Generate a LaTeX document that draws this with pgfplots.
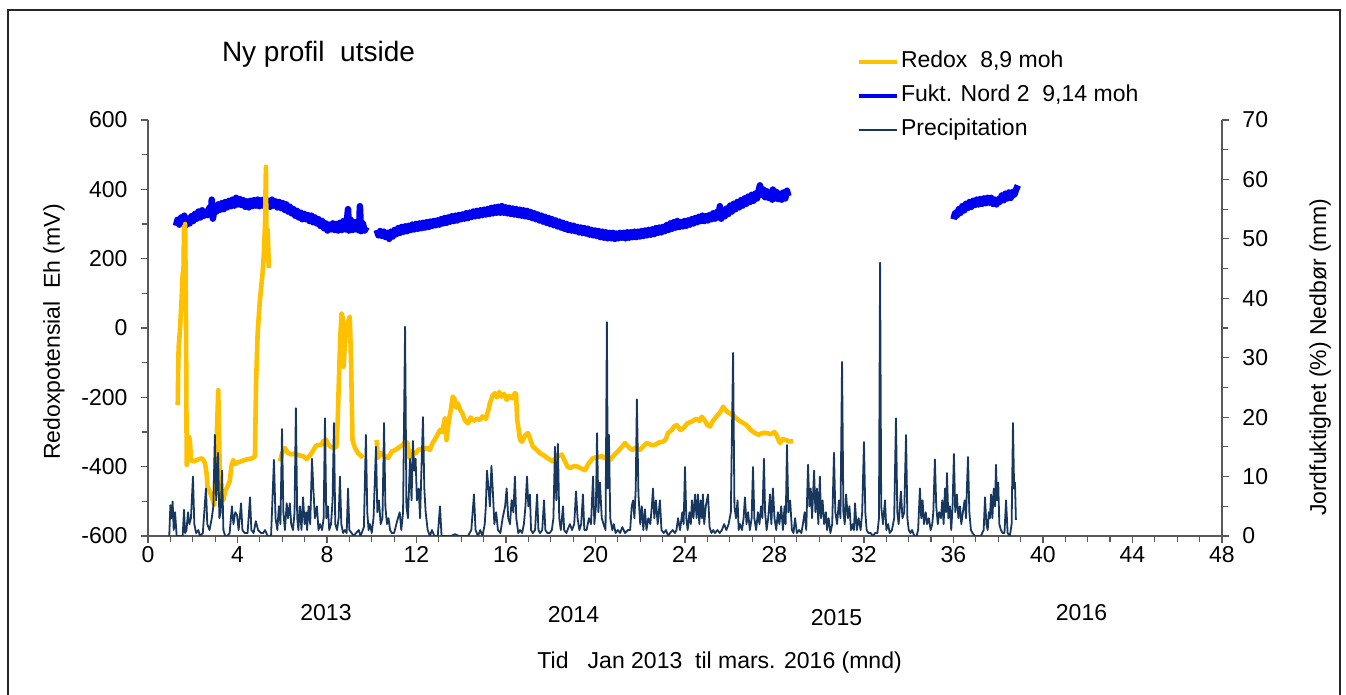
\documentclass[border=0pt]{standalone}
\usepackage{fontspec}
\setmainfont{Liberation Sans}
\usepackage{pgfplots}
\pgfplotsset{compat=1.18}
\definecolor{redox}{HTML}{FFC000}
\definecolor{fukt}{HTML}{0000F0}
\definecolor{prec}{HTML}{17375E}
\definecolor{axc}{HTML}{595959}
\newcommand\fs{\fontsize{23pt}{27pt}\selectfont}
\pgfplotsset{
  base/.style={at={(0pt,0pt)}, anchor=south west, scale only axis,
    width=1074pt, height=416pt, xmin=0, xmax=48,
    axis line style={axc, line width=1.2pt},
    tick style={axc, line width=1.2pt},
    tick align=outside, major tick length=7pt, minor tick length=6pt,
    tick label style={font=\fs, text=black},
  },
}
\begin{document}
\begin{tikzpicture}
\useasboundingbox (-148pt,-159pt) rectangle (1198pt,536pt);
\draw[line width=1.3pt, black!85] (-140pt,-170pt) -- (-140pt,526pt) -- (1192pt,526pt) -- (1192pt,-170pt);

% ---- right axis: soil moisture (blue)
\begin{axis}[base, ymin=0, ymax=70, axis x line=none, axis y line*=right,
  ytick={0,10,20,30,40,50,60,70}, yticklabels={0,10,20,30,40,50,60,70},
  minor y tick num=1, yticklabel style={anchor=west, xshift=10pt},
  unbounded coords=jump]
\addplot[fukt, line width=6.5pt, line join=round] coordinates {
(1.25,52.2)(1.32,53.2)(1.40,52.4)(1.48,53.6)(1.55,52.8)(1.62,53.9)(1.70,52.3)(1.78,53.4)(1.86,52.6)(1.94,53.8)
(2.02,53.0)(2.10,54.2)(2.18,53.4)(2.26,54.6)(2.34,53.6)(2.42,54.8)(2.50,53.9)(2.58,54.6)(2.66,54.0)(2.74,55.2)
(2.82,54.4)(2.85,56.6)(2.90,53.4)(2.98,55.3)(3.06,54.6)(3.14,55.8)(3.22,54.9)(3.30,56.0)(3.38,55.0)(3.46,56.2)
(3.54,55.3)(3.62,56.4)(3.70,55.5)(3.78,56.6)(3.86,55.6)(3.94,56.9)(4.02,55.8)(4.10,56.7)(4.18,55.7)(4.26,56.5)
(4.34,55.4)(4.42,56.3)(4.50,55.3)(4.58,56.4)(4.66,55.5)(4.74,56.5)(4.82,55.6)(4.90,56.6)(4.98,55.5)(5.06,56.5)
(5.14,55.6)(5.22,56.7)(5.30,55.5)(5.38,56.4)(5.46,55.4)(5.54,56.6)(5.62,55.6)(5.70,56.3)(5.78,55.3)(5.86,56.2)
(5.94,55.2)(6.02,56.0)(6.10,54.9)(6.18,55.8)(6.26,54.6)(6.34,55.4)(6.42,54.3)(6.50,55.0)(6.58,53.9)(6.66,54.7)
(6.74,53.6)(6.82,54.4)(6.90,53.3)(6.98,54.2)(7.06,53.3)(7.14,54.0)(7.22,53.0)(7.30,53.9)(7.38,52.8)(7.46,53.6)
(7.54,52.6)(7.62,53.3)(7.70,52.2)(7.78,53.0)(7.86,51.8)(7.94,52.6)(8.02,51.4)(8.10,52.4)(8.18,51.6)(8.26,52.6)
(8.34,51.5)(8.42,52.5)(8.50,51.4)(8.58,52.7)(8.66,51.5)(8.74,53.0)(8.82,51.6)(8.90,53.3)(8.94,55.0)(8.98,51.4)
(9.06,53.2)(9.14,51.5)(9.22,52.8)(9.30,51.6)(9.38,52.9)(9.44,51.4)(9.47,55.5)(9.52,51.3)(9.60,52.6)(9.68,51.4)(9.77,52.0)
(9.9,nan)
(10.22,51.5)(10.30,50.6)(10.38,51.3)(10.46,50.5)(10.54,51.2)(10.62,50.3)(10.70,51.0)(10.78,50.0)(10.86,51.2)(10.94,50.4)
(11.02,51.5)(11.10,50.8)(11.18,51.8)(11.26,51.0)(11.34,52.0)(11.42,51.2)(11.50,52.1)(11.58,51.3)(11.66,52.2)(11.74,51.5)
(11.82,52.4)(11.90,51.6)(11.98,52.5)(12.06,51.7)(12.14,52.6)(12.22,51.8)(12.30,52.7)(12.38,51.9)(12.46,52.8)(12.54,52.0)
(12.62,52.9)(12.70,52.2)(12.78,53.0)(12.86,52.3)(12.94,53.1)(13.02,52.4)(13.10,53.3)(13.18,52.6)(13.26,53.5)(13.34,52.7)
(13.42,53.6)(13.50,52.9)(13.58,53.8)(13.66,53.0)(13.74,53.9)(13.82,53.1)(13.90,54.0)(13.98,53.3)(14.06,54.1)(14.14,53.4)
(14.22,54.3)(14.30,53.5)(14.38,54.4)(14.46,53.7)(14.54,54.6)(14.62,53.8)(14.70,54.7)(14.78,53.9)(14.86,54.8)(14.94,54.0)
(15.02,54.9)(15.10,54.1)(15.18,55.0)(15.26,54.2)(15.34,55.2)(15.42,54.3)(15.50,55.3)(15.58,54.4)(15.66,55.4)(15.74,54.4)
(15.82,55.5)(15.90,54.4)(15.98,55.3)(16.06,54.3)(16.14,55.2)(16.22,54.2)(16.30,55.1)(16.38,54.1)(16.46,55.0)(16.54,54.0)
(16.62,54.9)(16.70,53.9)(16.78,54.8)(16.86,53.8)(16.94,54.7)(17.02,53.7)(17.10,54.5)(17.18,53.5)(17.26,54.3)(17.34,53.3)
(17.42,54.1)(17.50,53.1)(17.58,53.9)(17.66,52.9)(17.74,53.7)(17.82,52.7)(17.90,53.5)(17.98,52.5)(18.06,53.3)(18.14,52.3)
(18.22,53.1)(18.30,52.1)(18.38,52.9)(18.46,51.9)(18.54,52.7)(18.62,51.7)(18.70,52.5)(18.78,51.5)(18.86,52.3)(18.94,51.4)
(19.02,52.2)(19.10,51.3)(19.18,52.0)(19.26,51.1)(19.34,51.9)(19.42,51.0)(19.50,51.8)(19.58,50.9)(19.66,51.7)(19.74,50.7)
(19.82,51.5)(19.90,50.6)(19.98,51.4)(20.06,50.5)(20.14,51.3)(20.22,50.3)(20.30,51.2)(20.38,50.2)(20.46,51.1)(20.54,50.1)
(20.62,51.0)(20.70,50.1)(20.78,51.0)(20.86,50.0)(20.94,50.9)(21.02,50.1)(21.10,51.0)(21.18,50.2)(21.26,51.0)(21.34,50.1)
(21.42,51.1)(21.50,50.2)(21.58,51.1)(21.66,50.3)(21.74,51.2)(21.82,50.3)(21.90,51.2)(21.98,50.4)(22.06,51.3)(22.14,50.5)
(22.22,51.4)(22.30,50.6)(22.38,51.5)(22.46,50.7)(22.54,51.6)(22.62,50.8)(22.70,51.8)(22.78,51.0)(22.86,51.9)(22.94,51.1)
(23.02,52.0)(23.10,51.3)(23.18,52.3)(23.26,51.5)(23.34,52.6)(23.42,51.7)(23.50,52.8)(23.58,51.9)(23.66,53.0)(23.74,52.0)
(23.82,52.8)(23.90,52.1)(23.98,53.0)(24.06,52.2)(24.14,53.1)(24.22,52.4)(24.30,53.3)(24.38,52.6)(24.46,53.5)(24.54,52.8)
(24.62,53.7)(24.70,53.0)(24.78,53.9)(24.86,53.0)(24.94,53.8)(25.02,53.1)(25.10,54.0)(25.18,53.3)(25.26,54.3)(25.34,53.4)
(25.42,54.5)(25.50,53.6)(25.56,55.5)(25.62,53.4)(25.70,54.8)(25.78,53.8)(25.86,55.1)(25.94,54.2)(26.02,55.6)(26.10,54.6)
(26.18,55.9)(26.26,55.0)(26.34,56.2)(26.42,55.3)(26.50,56.5)(26.58,55.6)(26.66,56.8)(26.74,55.9)(26.82,57.1)(26.90,56.2)
(26.98,57.4)(27.06,56.4)(27.14,57.6)(27.22,56.8)(27.30,58.2)(27.35,59.0)(27.42,57.4)(27.50,58.3)(27.58,57.0)(27.66,58.0)
(27.74,56.9)(27.82,57.8)(27.90,56.6)(27.93,58.3)(28.00,56.8)(28.08,57.9)(28.16,56.7)(28.24,57.6)(28.32,56.6)(28.40,57.8)
(28.48,56.8)(28.56,58.1)(28.62,57.2)
(30,nan)
(36.00,53.3)(36.08,54.4)(36.16,53.9)(36.24,55.0)(36.32,54.4)(36.40,55.5)(36.48,54.8)(36.56,55.9)(36.64,55.2)(36.72,56.2)
(36.80,55.4)(36.88,56.4)(36.96,55.7)(37.04,56.6)(37.12,55.8)(37.20,56.7)(37.28,55.9)(37.36,56.8)(37.44,56.0)(37.52,56.9)
(37.60,56.1)(37.68,56.9)(37.76,55.9)(37.84,56.6)(37.92,55.8)(38.00,56.7)(38.08,56.2)(38.16,57.3)(38.24,56.5)(38.32,57.6)
(38.40,56.8)(38.48,57.8)(38.56,56.9)(38.64,57.9)(38.72,57.4)(38.80,58.3)(38.88,59.0)
};
\end{axis}

% ---- left axis: redox (yellow)
\begin{axis}[base, ymin=-600, ymax=600, axis x line*=bottom, axis y line*=left,
  xtick={0,4,8,12,16,20,24,28,32,36,40,44,48},
  xticklabels={0,4,8,12,16,20,24,28,32,36,40,44,48},
  minor x tick num=3,
  ytick={-600,-400,-200,0,200,400,600},
  yticklabels={-600,-400,-200,0,200,400,600},
  minor y tick num=1, yticklabel style={anchor=east, xshift=-10pt},
  unbounded coords=jump]
\addplot[redox, line width=4.6pt, line join=round] coordinates {
(1.33,-222)(1.35,-120)(1.37,-54)(1.42,-15)(1.50,80)(1.55,158)(1.58,130)(1.61,292)(1.64,180)(1.66,300)(1.70,0)
(1.73,-395)(1.78,-380)(1.84,-314)(1.88,-330)(1.92,-381)(2.05,-385)(2.17,-381)(2.30,-378)(2.42,-376)(2.55,-390)
(2.62,-420)(2.66,-458)(2.75,-470)(2.85,-487)(2.96,-511)(3.02,-420)(3.08,-300)(3.14,-179)(3.18,-320)(3.22,-450)
(3.30,-490)(3.37,-496)(3.45,-470)(3.55,-458)(3.66,-440)(3.72,-400)(3.81,-381)(3.90,-392)(4.00,-388)(4.15,-385)
(4.30,-381)(4.50,-378)(4.65,-376)(4.78,-370)(4.83,-159)(4.90,-15)(5.00,80)(5.12,158)(5.18,215)(5.23,300)
(5.27,465)(5.29,300)(5.31,196)(5.35,283)(5.38,220)(5.40,173)
(5.6,nan)
(5.90,-385)(6.00,-360)(6.12,-346)(6.25,-360)(6.40,-365)(6.55,-362)(6.70,-366)(6.93,-370)(7.10,-378)(7.20,-370)
(7.36,-356)(7.50,-340)(7.62,-337)(7.76,-337)(7.82,-327)(7.95,-322)(8.05,-335)(8.15,-342)(8.31,-346)(8.42,-342)
(8.48,-265)(8.55,-112)(8.60,-20)(8.65,42)(8.70,30)(8.74,-112)(8.80,-44)(8.86,0)(8.95,20)(9.02,33)(9.08,-112)
(9.14,-323)(9.25,-346)(9.40,-362)(9.55,-370)(9.60,-375)
(9.9,nan)
(10.22,-323)(10.28,-375)(10.40,-361)(10.55,-368)(10.73,-375)(10.90,-356)(11.05,-352)(11.20,-345)(11.40,-337)(11.50,-327)
(11.60,-332)(11.68,-375)(11.80,-356)(11.95,-362)(12.10,-350)(12.29,-352)(12.45,-345)(12.60,-352)(12.72,-332)(12.90,-313)
(13.05,-294)(13.15,-300)(13.27,-260)(13.34,-323)(13.45,-265)(13.55,-230)(13.62,-198)(13.70,-205)(13.78,-230)(13.85,-217)
(13.95,-236)(14.05,-246)(14.15,-265)(14.30,-275)(14.42,-258)(14.55,-268)(14.70,-262)(14.84,-265)(14.95,-255)(15.10,-262)
(15.20,-240)(15.28,-217)(15.40,-195)(15.50,-188)(15.60,-200)(15.70,-185)(15.80,-198)(15.92,-190)(16.03,-207)(16.15,-196)
(16.28,-203)(16.40,-188)(16.45,-190)(16.50,-265)(16.56,-290)(16.63,-323)(16.72,-328)(16.85,-310)(16.98,-303)(17.07,-318)
(17.20,-342)(17.35,-350)(17.52,-361)(17.70,-368)(17.85,-375)(18.10,-385)(18.30,-370)(18.49,-365)(18.60,-380)(18.75,-400)
(18.86,-404)(19.05,-398)(19.20,-400)(19.35,-405)(19.53,-410)(19.70,-390)(19.90,-375)(20.10,-372)(20.30,-370)(20.50,-378)
(20.65,-381)(20.85,-365)(21.00,-356)(21.15,-345)(21.32,-332)(21.50,-345)(21.65,-352)(21.80,-345)(21.99,-352)(22.15,-340)
(22.30,-332)(22.50,-338)(22.66,-337)(22.85,-330)(23.05,-327)(23.15,-320)(23.24,-303)(23.40,-295)(23.50,-285)(23.63,-280)
(23.80,-294)(23.95,-288)(24.10,-275)(24.30,-270)(24.50,-262)(24.65,-268)(24.75,-256)(24.90,-268)(25.00,-280)(25.12,-284)
(25.25,-268)(25.40,-256)(25.55,-245)(25.71,-227)(25.85,-240)(26.00,-246)(26.20,-255)(26.37,-265)(26.55,-272)(26.75,-280)
(26.95,-295)(27.13,-303)(27.30,-308)(27.45,-303)(27.65,-303)(27.85,-306)(28.00,-300)(28.10,-310)(28.20,-326)(28.25,-332)
(28.35,-320)(28.50,-323)(28.65,-327)(28.83,-327)
};
\end{axis}

% ---- precipitation (right scale), legend
\begin{axis}[base, ymin=0, ymax=70, hide axis,
  legend style={at={(rel axis cs:0.66,1.170)}, anchor=north west, draw=none, fill=none,
    inner sep=0pt, font=\fs, row sep=9pt,
    nodes={inner sep=2pt, text height=16pt, text depth=5pt}},
  legend cell align=left,
  legend image code/.code={\draw[#1] (0pt,0pt) -- (38pt,0pt);}]
\addlegendimage{redox, line width=4pt}
\addlegendentry{Redox~~8,9 moh}
\addlegendimage{fukt, line width=4pt}
\addlegendentry{Fukt. Nord 2~~9,14 moh}
\addplot[prec, line width=1.8pt, line join=round] coordinates {
(0.95,0)(1.00,5.2)(1.05,3)(1.10,5.8)(1.15,1)(1.21,4)(1.28,0)(1.40,0)(1.55,0)(1.61,4.4)(1.66,0.5)(1.72,1)(1.79,4)
(1.85,2)(1.92,3)(2.01,10)(2.07,2)(2.15,0.5)(2.25,1)(2.32,0)(2.45,0.5)(2.59,8)(2.65,2)(2.75,1)(2.85,3)(2.92,5)
(2.99,17)(3.05,6)(3.13,14)(3.19,3)(3.25,4)(3.31,11)(3.37,1)(3.45,0)(3.55,0)(3.65,0.5)(3.75,5)(3.82,2)(3.90,4)
(3.98,3.5)(4.05,1)(4.16,5.5)(4.22,1)(4.32,0.5)(4.45,0.5)(4.56,6.5)(4.62,1)(4.72,0.5)(4.82,2.5)(4.92,1)(5.05,0.5)
(5.15,0.5)(5.23,1)(5.35,0)(5.50,0)(5.63,12.8)(5.70,3)(5.78,1)(5.85,5)(5.92,2)(5.99,18)(6.05,4)(6.12,1)(6.20,5.5)
(6.26,3)(6.34,5.5)(6.40,2)(6.48,1)(6.55,4)(6.61,21.5)(6.67,3)(6.72,1)(6.79,5)(6.86,1)(6.93,6.5)(7.00,2)(7.07,4)
(7.11,1)(7.18,5)(7.25,2)(7.33,13)(7.39,8)(7.46,3)(7.55,5)(7.62,1)(7.69,2)(7.78,1)(7.85,3)(7.91,19.8)(7.97,3)
(8.04,5)(8.10,1)(8.18,2)(8.25,6)(8.31,19)(8.37,2)(8.45,1)(8.52,3)(8.58,10)(8.64,2)(8.72,0.5)(8.80,1)(8.88,0.5)
(8.94,8)(9.00,1)(9.10,0.5)(9.20,0)(9.30,0.5)(9.42,1)(9.50,0)(9.65,1.5)(9.74,17)(9.80,4)(9.86,1)(9.92,2)(10.00,0.5)
(10.08,3)(10.19,15)(10.25,4)(10.32,6)(10.40,2)(10.48,3)(10.55,19)(10.61,5)(10.68,2)(10.75,3)(10.82,1)(10.90,0.5)
(11.00,0.5)(11.10,2)(11.17,3)(11.25,4)(11.32,1)(11.40,4)(11.49,35.2)(11.55,5)(11.62,3)(11.71,13)(11.78,6)(11.84,16)
(11.90,11)(11.96,13)(12.02,6)(12.10,8)(12.16,3)(12.22,11)(12.29,20)(12.35,8)(12.41,4)(12.50,1)(12.60,0)(12.69,1)
(12.80,0)(12.95,0)(13.05,5)(13.12,0)(13.25,0)(13.40,0)(13.55,0)(13.72,0.3)(13.90,0)(14.08,0)(14.30,0)(14.45,1)
(14.57,7)(14.64,1)(14.75,0)(14.85,1)(14.95,0)(15.05,2)(15.10,5)(15.15,11)(15.22,8)(15.28,5)(15.35,11.8)(15.42,7)
(15.48,2)(15.56,4)(15.64,1)(15.75,0.5)(15.85,3)(15.96,5)(16.03,8)(16.10,3)(16.18,2)(16.25,6)(16.33,4)(16.40,10)
(16.46,3)(16.55,0.5)(16.63,1)(16.72,0.5)(16.80,2)(16.87,5)(16.94,10)(17.00,5)(17.07,7)(17.12,1)(17.20,0.5)(17.30,1)
(17.39,7)(17.45,1)(17.52,0.5)(17.62,1)(17.70,6)(17.76,1)(17.85,0.5)(17.95,0.5)(18.05,1)(18.12,3)(18.19,15)(18.25,6)
(18.32,15.5)(18.38,3)(18.45,1)(18.55,5)(18.60,1)(18.70,0.5)(18.80,1.5)(18.86,2)(18.95,1)(19.05,2)(19.13,7.5)(19.20,3)
(19.28,1)(19.36,2)(19.44,7)(19.50,1)(19.60,1)(19.71,3)(19.80,2)(19.89,10)(19.95,2)(20.02,5)(20.07,17.3)(20.13,4)
(20.20,9)(20.28,3)(20.36,2)(20.45,1)(20.51,36)(20.55,8)(20.60,17)(20.66,3)(20.75,1)(20.82,2)(20.90,0.5)(21.00,1)
(21.10,0.5)(21.20,1.5)(21.32,0.5)(21.45,1)(21.55,1)(21.62,5)(21.68,6)(21.74,3)(21.80,8)(21.85,23)(21.92,7)(22.00,2)
(22.07,5)(22.14,1)(22.21,4.5)(22.28,1)(22.36,3)(22.45,2)(22.52,5)(22.57,8)(22.63,3)(22.70,6)(22.78,2)(22.88,6)
(22.95,1)(23.05,0.5)(23.15,1)(23.25,0)(23.33,0.5)(23.45,1)(23.55,0.5)(23.62,1)(23.69,3)(23.78,1)(23.88,4)(23.94,2)
(24.00,11.6)(24.06,3)(24.12,1)(24.20,4)(24.26,2)(24.31,6)(24.38,3)(24.45,7)(24.52,3)(24.58,7)(24.64,2)(24.70,6)
(24.76,3)(24.80,7)(24.86,2)(24.93,5)(25.03,7)(25.10,1.5)(25.18,0.5)(25.26,1)(25.34,0.5)(25.45,1)(25.55,0.5)(25.65,1)
(25.75,2)(25.85,1)(25.95,2)(26.05,4)(26.15,30.8)(26.21,5)(26.28,3)(26.35,6)(26.40,1)(26.46,2)(26.55,1)(26.62,3)
(26.68,6.5)(26.75,2)(26.82,4)(26.90,1)(26.98,3)(27.04,11.6)(27.10,3)(27.18,1)(27.26,4)(27.33,2)(27.40,5)(27.46,3)
(27.53,13)(27.58,4)(27.65,1)(27.72,3)(27.80,7)(27.86,2)(27.93,8)(28.00,3)(28.08,1)(28.15,4)(28.22,2)(28.30,5)
(28.38,1)(28.45,5)(28.50,2)(28.56,15.3)(28.62,4)(28.70,6)(28.78,1)(28.85,0.5)(28.92,3)(29.00,0.5)(29.10,1)(29.20,0.5)
(29.27,2)(29.35,4)(29.42,1)(29.50,12)(29.56,5)(29.62,8)(29.68,3)(29.77,11)(29.83,4)(29.90,8)(29.96,2)(30.03,10)
(30.08,3)(30.15,6)(30.22,2)(30.30,4)(30.35,1)(30.42,3)(30.50,0.5)(30.58,2)(30.66,14)(30.72,4)(30.80,2)(30.88,6)
(30.95,3)(31.02,29.3)(31.08,4)(31.14,2)(31.20,7)(31.28,3)(31.35,5)(31.42,1)(31.50,2)(31.55,1)(31.60,5.5)(31.68,1)
(31.76,3)(31.85,1)(31.92,4)(32.00,15.8)(32.06,4)(32.12,1)(32.20,0.5)(32.30,0.5)(32.40,0)(32.50,0.5)(32.60,0.5)(32.67,3)
(32.72,46)(32.77,5)(32.85,2)(32.94,6)(33.00,1)(33.08,2)(33.15,0.5)(33.25,1)(33.35,3)(33.43,19.8)(33.49,4)(33.55,2)
(33.65,7.5)(33.72,3)(33.80,4)(33.88,17)(33.94,3)(34.00,1)(34.08,0.5)(34.15,1)(34.25,0)(34.35,0)(34.42,1)(34.50,8)
(34.56,3)(34.62,6)(34.68,2)(34.76,4)(34.82,2)(34.90,3)(34.98,1)(35.05,2)(35.10,4)(35.17,12.9)(35.23,5)(35.30,2)
(35.36,4)(35.44,3)(35.50,6)(35.56,2)(35.62,8)(35.67,4)(35.71,10.6)(35.77,3)(35.84,5)(35.90,1)(35.96,5)(36.02,13.8)
(36.08,4)(36.15,7)(36.22,3)(36.29,5)(36.35,2)(36.42,4)(36.50,6)(36.56,3)(36.60,8)(36.65,13.3)(36.71,4)(36.78,1)
(36.85,0.5)(36.96,0)(37.10,0)(37.22,0)(37.35,1)(37.41,6.5)(37.47,2)(37.53,1)(37.58,4)(37.63,3)(37.68,7)(37.74,3)
(37.80,8)(37.86,5)(37.90,12)(37.95,6)(38.00,9)(38.05,2)(38.12,1)(38.20,0.5)(38.28,0.5)(38.35,6)(38.42,0.5)(38.52,0)
(38.60,2)(38.66,19)(38.71,8)(38.75,9)(38.79,2.7)
};
\addlegendentry{Precipitation}
\end{axis}

\node[font=\fontsize{28pt}{32pt}\selectfont, anchor=base] at (170.5pt,474pt) {Ny profil~~utside};
\node[font=\fs, anchor=base, rotate=90] at (-88pt,204pt) {Redoxpotensial~~Eh (mV)};
\node[font=\fs, anchor=base, rotate=90] at (1178pt,178.5pt) {Jordfuktighet (\%)~Nedbør (mm)};
\node[font=\fs, anchor=base] at (178pt,-85pt) {2013};
\node[font=\fs, anchor=base] at (425.5pt,-87pt) {2014};
\node[font=\fs, anchor=base] at (688.5pt,-90pt) {2015};
\node[font=\fs, anchor=base] at (933.5pt,-85pt) {2016};
\node[font=\fs, anchor=base east, inner sep=0pt] at (754pt,-132pt) {Tid~~~Jan 2013~~til mars. 2016 (mnd)};
\end{tikzpicture}
\end{document}
